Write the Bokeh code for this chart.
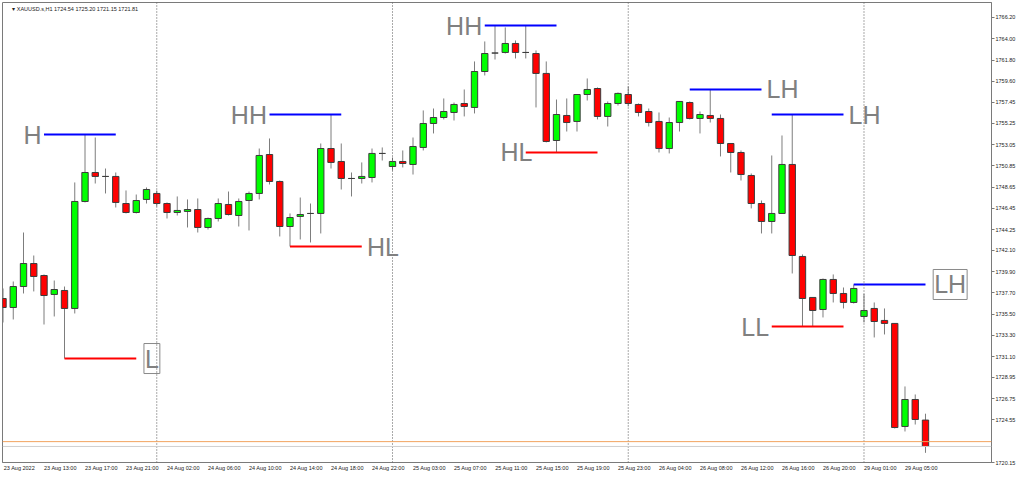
from bokeh.plotting import figure
from bokeh.models import FixedTicker, Label, Span, Range1d, ColumnDataSource, PrintfTickFormatter
from bokeh.embed import file_html
from bokeh.resources import INLINE

# ---------------- data (XAUUSD.s, H1) ----------------
opens = [1737.12, 1736.19, 1738.36, 1740.74, 1739.50, 1737.54, 1737.95, 1736.09, 1747.16, 1750.16,
         1749.75, 1749.75, 1746.95, 1746.02, 1747.37, 1747.99, 1746.95, 1746.02, 1746.13, 1746.33,
         1744.47, 1745.40, 1746.85, 1745.71, 1747.26, 1747.99, 1752.02, 1749.23, 1744.57, 1745.61,
         1745.92, 1745.92, 1752.64, 1751.30, 1749.54, 1749.54, 1749.64, 1752.13, 1750.78, 1751.30,
         1750.99, 1752.75, 1755.23, 1755.85, 1756.37, 1757.30, 1756.89, 1760.61, 1762.52, 1762.58,
         1763.51, 1762.58, 1762.47, 1760.41, 1753.47, 1756.06, 1755.44, 1758.23, 1758.85, 1755.96,
         1757.30, 1758.23, 1757.20, 1756.47, 1755.44, 1752.64, 1755.33, 1757.40, 1755.75, 1756.06,
         1755.75, 1753.16, 1752.23, 1749.85, 1746.95, 1745.09, 1745.92, 1750.99, 1741.47, 1737.23,
         1735.98, 1739.09, 1737.64, 1736.71, 1735.26, 1736.09, 1734.85, 1734.54, 1723.88, 1726.67,
         1724.54]
highs = [1738.16, 1738.88, 1743.95, 1741.57, 1739.61, 1738.98, 1738.36, 1749.13, 1754.09, 1753.78,
         1750.57, 1750.16, 1748.30, 1747.88, 1748.61, 1748.30, 1747.06, 1747.68, 1747.37, 1747.47,
         1745.50, 1747.47, 1748.19, 1747.47, 1748.19, 1752.64, 1753.68, 1749.33, 1745.92, 1747.57,
         1746.95, 1753.16, 1756.16, 1753.16, 1750.16, 1751.20, 1752.64, 1752.75, 1751.71, 1752.44,
         1753.78, 1756.58, 1756.78, 1757.82, 1757.40, 1758.75, 1761.65, 1763.72, 1765.37, 1765.17,
         1763.82, 1765.37, 1762.79, 1761.65, 1757.71, 1757.82, 1758.23, 1759.89, 1758.96, 1757.51,
         1758.44, 1759.06, 1757.30, 1756.78, 1756.37, 1755.85, 1757.51, 1757.51, 1756.47, 1758.75,
         1756.16, 1753.16, 1752.44, 1750.06, 1747.26, 1751.92, 1753.99, 1756.16, 1741.68, 1737.23,
         1739.19, 1739.61, 1738.26, 1738.57, 1737.60, 1736.71, 1736.09, 1734.54, 1728.02, 1727.19,
         1725.20]
lows = [1734.64, 1734.95, 1737.64, 1737.85, 1734.43, 1735.26, 1730.91, 1735.57, 1747.06, 1749.02,
        1747.99, 1746.54, 1745.92, 1745.92, 1746.95, 1746.64, 1745.40, 1745.71, 1744.47, 1743.95,
        1744.26, 1745.09, 1745.71, 1744.57, 1744.16, 1747.37, 1748.92, 1743.54, 1742.50, 1743.23,
        1742.92, 1743.85, 1750.57, 1748.40, 1747.68, 1749.02, 1749.13, 1751.40, 1750.37, 1750.68,
        1749.95, 1752.44, 1754.20, 1755.65, 1755.54, 1755.96, 1756.27, 1760.20, 1761.85, 1762.47,
        1761.96, 1761.96, 1756.89, 1753.27, 1752.23, 1754.40, 1754.40, 1757.61, 1755.65, 1754.92,
        1757.09, 1756.99, 1755.96, 1754.92, 1752.23, 1752.13, 1754.40, 1755.65, 1754.20, 1755.33,
        1751.82, 1750.16, 1749.33, 1746.44, 1743.85, 1743.85, 1745.92, 1739.71, 1734.22, 1734.22,
        1735.16, 1736.71, 1736.09, 1736.60, 1734.64, 1733.09, 1733.40, 1723.67, 1723.36, 1724.08,
        1721.15]
closes = [1736.19, 1738.36, 1740.74, 1739.40, 1737.43, 1738.05, 1736.09, 1747.16, 1750.16, 1749.75,
          1749.75, 1747.06, 1746.02, 1747.26, 1748.40, 1746.95, 1746.02, 1746.23, 1746.33, 1744.47,
          1745.40, 1746.95, 1745.81, 1747.16, 1747.99, 1751.92, 1749.23, 1744.57, 1745.50, 1745.81,
          1745.92, 1752.64, 1751.20, 1749.54, 1749.54, 1749.75, 1752.13, 1752.13, 1751.30, 1751.09,
          1752.85, 1755.23, 1755.85, 1756.47, 1757.20, 1756.99, 1760.61, 1762.47, 1762.52, 1763.51,
          1762.58, 1762.58, 1760.41, 1753.37, 1756.16, 1755.33, 1758.23, 1758.75, 1755.96, 1757.30,
          1758.34, 1757.30, 1756.37, 1755.33, 1752.64, 1755.33, 1757.51, 1755.75, 1756.16, 1755.75,
          1753.16, 1752.23, 1749.95, 1746.95, 1745.09, 1745.92, 1750.99, 1741.57, 1737.12, 1735.88,
          1739.09, 1737.64, 1736.71, 1738.16, 1735.88, 1734.74, 1734.54, 1723.77, 1726.67, 1724.60,
          1721.81]

x_tick_bars = [0, 4, 8, 12, 16, 20, 24, 28, 32, 36, 40, 44, 48, 52, 56, 60, 64, 68, 72, 76, 80, 84, 88]
x_tick_labels = ["23 Aug 2022", "23 Aug 13:00", "23 Aug 17:00", "23 Aug 21:00", "24 Aug 02:00",
                 "24 Aug 06:00", "24 Aug 10:00", "24 Aug 14:00", "24 Aug 18:00", "24 Aug 22:00",
                 "25 Aug 03:00", "25 Aug 07:00", "25 Aug 11:00", "25 Aug 15:00", "25 Aug 19:00",
                 "25 Aug 23:00", "26 Aug 04:00", "26 Aug 08:00", "26 Aug 12:00", "26 Aug 16:00",
                 "26 Aug 20:00", "29 Aug 01:00", "29 Aug 05:00"]
y_ticks = [1766.20, 1764.00, 1761.80, 1759.60, 1757.45, 1755.25, 1753.05, 1750.85, 1748.65,
           1746.45, 1744.25, 1742.10, 1739.90, 1737.70, 1735.50, 1733.30, 1731.10, 1728.95,
           1726.75, 1724.55, 1720.15]
day_start_bars = [15, 38, 61, 84]

ask_price = 1722.31
bid_price = closes[-1]

# market-structure marks: name, pivot bar, high/low, line start bar, line end bar, label side
struct_names = ["H", "L", "HH", "HL", "HH", "HL", "LH", "LH", "LL", "LH"]
struct_pivot = [8, 6, 32, 28, 48, 54, 69, 77, 78, 83]
struct_kind = ["high", "low", "high", "low", "high", "low", "high", "high", "low", "high"]
struct_start = [4, 6, 26, 28, 47, 51, 67, 75, 75, 83]
struct_end = [11, 13, 33, 35, 54, 58, 74, 82, 82, 90]
struct_side = ["left", "boxright", "left", "right", "left", "inside", "right", "right", "left", "boxright"]

# ---------------- figure ----------------
FRAME_W, FRAME_H = 989, 460
Y0, Y1 = 1720.15, 1767.75
p = figure(frame_width=FRAME_W, frame_height=FRAME_H, output_backend="svg", toolbar_location=None,
           x_range=Range1d(-0.05, 96.44), y_range=Range1d(Y0, Y1),
           y_axis_location="right", min_border_left=2, min_border_top=2,
           min_border_right=0, min_border_bottom=0)
p.background_fill_color = "white"
p.border_fill_color = "white"
p.outline_line_color = "#7a7a7a"
p.xgrid.visible = False
p.ygrid.visible = False

small_font = "Liberation Sans"

# axes
p.xaxis.ticker = FixedTicker(ticks=[b + 1.6 for b in x_tick_bars])
p.xaxis.major_label_overrides = {b + 1.6: s for b, s in zip(x_tick_bars, x_tick_labels)}
p.xaxis.major_tick_out = 0
p.xaxis.major_tick_in = 0
p.xaxis.minor_tick_out = 0
p.xaxis.minor_tick_in = 0
p.xaxis.major_label_standoff = 2
p.xaxis.major_label_text_font = small_font
p.xaxis.major_label_text_font_size = "5.5px"
p.xaxis.major_label_text_color = "#222222"
p.xaxis.axis_line_color = "#7a7a7a"

p.yaxis.ticker = FixedTicker(ticks=y_ticks)
p.yaxis.formatter = PrintfTickFormatter(format="%.2f")
p.yaxis.major_tick_out = 3
p.yaxis.major_tick_in = 0
p.yaxis.minor_tick_out = 0
p.yaxis.minor_tick_in = 0
p.yaxis.major_label_standoff = 1
p.yaxis.major_label_text_font = small_font
p.yaxis.major_label_text_font_size = "5.5px"
p.yaxis.major_label_text_color = "#222222"
p.yaxis.axis_line_color = "#7a7a7a"
p.yaxis.major_tick_line_color = "#7a7a7a"

# day separators
for b in day_start_bars:
    p.add_layout(Span(location=b, dimension="height", line_color="#555555",
                      line_width=1, line_dash="1 2"))

# ask / bid lines
p.add_layout(Span(location=ask_price, dimension="width", line_color="#F2A35E", line_width=1))
p.add_layout(Span(location=bid_price, dimension="width", line_color="#CFCFCF", line_width=1))

# candles
xs = list(range(len(opens)))
src = ColumnDataSource(dict(
    x=xs, o=opens, h=highs, l=lows, c=closes,
    top=[max(a, b) for a, b in zip(opens, closes)],
    bottom=[min(a, b) for a, b in zip(opens, closes)],
    fill=["#00FF00" if c > o else "#FF0000" for o, c in zip(opens, closes)],
))
p.segment(x0="x", y0="h", x1="x", y1="l", source=src, line_color="#7d7d7d", line_width=1)
p.vbar(x="x", width=0.62, top="top", bottom="bottom", source=src,
       fill_color="fill", line_color="#3c3c3c", line_width=1)

# structure lines and labels
for name, piv, kind, s, e, side in zip(struct_names, struct_pivot, struct_kind,
                                        struct_start, struct_end, struct_side):
    level = highs[piv] if kind == "high" else lows[piv]
    col = "#0000FF" if kind == "high" else "#FF0000"
    p.segment(x0=[s], y0=[level], x1=[e], y1=[level], line_color=col, line_width=2)
    kw = dict(y=level, text=name, text_font=small_font, text_font_size="25px",
              text_color="#808080", text_baseline="middle")
    if side == "left":
        lab = Label(x=s - 0.25, text_align="right", **kw)
    elif side == "right":
        lab = Label(x=e + 0.5, text_align="left", **kw)
    elif side == "inside":
        lab = Label(x=s + 0.65, text_align="right", **kw)
    else:
        lab = Label(x=e + 0.75, text_align="left", border_line_color="#8a8a8a",
                    border_line_width=1, padding=1, **kw)
    p.add_layout(lab)

# symbol header
p.add_layout(Label(x=0.9, y=1767.10, text="\u25BE XAUUSD.s,H1  1724.54 1725.20 1721.15 1721.81",
                   text_font=small_font, text_font_size="5.5px", text_color="#222222",
                   text_baseline="middle", text_align="left"))

# price tags on the price axis (screen units so they may sit outside the frame)
def price_to_screen(price):
    return (price - Y0) / (Y1 - Y0) * FRAME_H

for price, bg in [(ask_price, "#FF5A1F"), (bid_price, "black")]:
    p.add_layout(Label(x=FRAME_W + 4, y=price_to_screen(price), x_units="screen", y_units="screen",
                       text="%.2f" % price, text_font=small_font, text_font_size="5.5px",
                       text_color="white", background_fill_color=bg,
                       text_baseline="middle", text_align="left", padding=1))

open("out.html", "w").write(file_html(p, INLINE))
